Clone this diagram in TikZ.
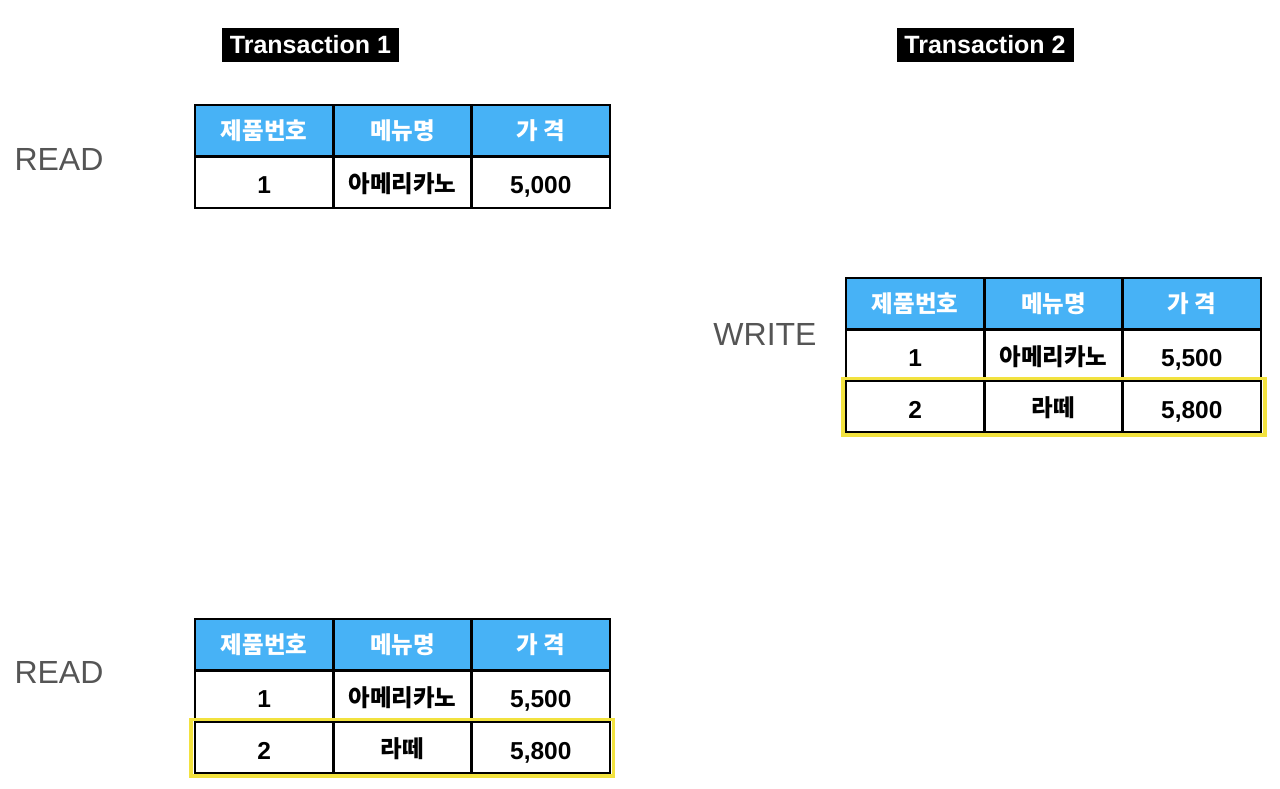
\documentclass[tikz,border=0pt]{standalone}
\usepackage{fontspec}
\setmainfont{Liberation Sans}
\newfontfamily\kr{Noto Sans CJK KR}
\definecolor{hblue}{HTML}{47B2F6}
\definecolor{hyel}{HTML}{F2E23F}
\definecolor{lblgray}{HTML}{555555}
\tikzset{
  cellbase/.style={draw=black, line width=2.8, minimum width=138.3, minimum height=51.5, inner sep=0, anchor=center},
  hcell/.style={cellbase, fill=hblue, text=white, font=\kr\bfseries\fontsize{23.5}{23.5}\selectfont},
  bcell/.style={cellbase, fill=white, text=black, text height=20, text depth=0, font=\kr\bfseries\fontsize{23.5}{23.5}\selectfont},
  ncell/.style={cellbase, fill=white, text=black, text height=22.5, text depth=0, font=\bfseries\fontsize{24.5}{24.5}\selectfont},
  oplabel/.style={text=lblgray, font=\fontsize{32}{32}\selectfont, inner sep=0},
  ttl/.style={fill=black, text=white, font=\bfseries\fontsize{25}{25}\selectfont, minimum width=177, minimum height=34, inner sep=0},
  hilite/.style={draw=hyel, line width=3.2}
}
\begin{document}
\begin{tikzpicture}[x=1pt,y=-1pt]
\useasboundingbox (0,0) rectangle (1280,788);
% titles
\node[ttl] (t1) at (310.5,45) {Transaction 1};
\node[ttl] (t2) at (985,45) {Transaction 2};
% labels
\node[oplabel] (read1) at (59,159) {READ};
\node[oplabel] (write2) at (765,334) {WRITE};
\node[oplabel] (read3) at (59,672) {READ};
% table 1
\node[hcell] (a11) at (264.2,130.8) {제품번호};
\node[hcell] (a12) at (402.5,130.8) {메뉴명};
\node[hcell] (a13) at (540.8,130.8) {가 격};
\node[ncell] (a21) at (264.2,182.3) {1};
\node[bcell] (a22) at (402.5,182.3) {아메리카노};
\node[ncell] (a23) at (540.8,182.3) {5,000};
% table 2
\node[hcell] (b11) at (915.2,303.8) {제품번호};
\node[hcell] (b12) at (1053.5,303.8) {메뉴명};
\node[hcell] (b13) at (1191.8,303.8) {가 격};
\node[ncell] (b21) at (915.2,355.3) {1};
\node[bcell] (b22) at (1053.5,355.3) {아메리카노};
\node[ncell] (b23) at (1191.8,355.3) {5,500};
\node[ncell] (b31) at (915.2,406.8) {2};
\node[bcell] (b32) at (1053.5,406.8) {라떼};
\node[ncell] (b33) at (1191.8,406.8) {5,800};
\draw[hilite] (843,378.3) rectangle (1265,435);
% table 3
\node[hcell] (c11) at (264.2,644.8) {제품번호};
\node[hcell] (c12) at (402.5,644.8) {메뉴명};
\node[hcell] (c13) at (540.8,644.8) {가 격};
\node[ncell] (c21) at (264.2,696.3) {1};
\node[bcell] (c22) at (402.5,696.3) {아메리카노};
\node[ncell] (c23) at (540.8,696.3) {5,500};
\node[ncell] (c31) at (264.2,747.8) {2};
\node[bcell] (c32) at (402.5,747.8) {라떼};
\node[ncell] (c33) at (540.8,747.8) {5,800};
\draw[hilite] (191,719.3) rectangle (613.5,776);
\end{tikzpicture}
\end{document}
